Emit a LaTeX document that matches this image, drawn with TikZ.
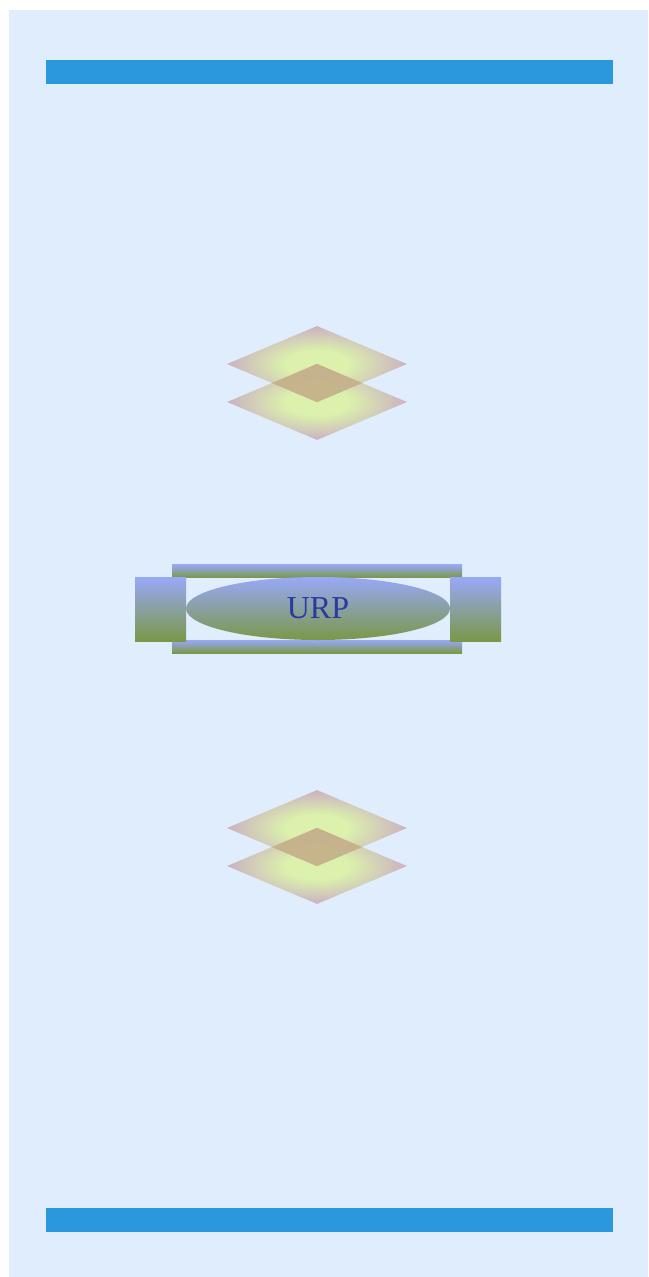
\documentclass[tikz,border=0pt]{standalone}
\usepackage{fontspec}
\setmainfont{Liberation Serif}
\usepackage{xcolor}
\usetikzlibrary{shapes,positioning,shapes.geometric,calc}

\definecolor{pagebg}{HTML}{DFEDFD}
\definecolor{barblue}{HTML}{2B98DE}
\definecolor{lilac}{HTML}{98A8F8}
\definecolor{olive}{HTML}{7A9848}
\definecolor{lime}{HTML}{DAF298}
\definecolor{mauve}{HTML}{C8A2B4}
\definecolor{tan}{HTML}{C6B28C}
\definecolor{urpblue}{HTML}{2A3AA0}

\pgfdeclareradialshading{layerglow}{\pgfpoint{0bp}{0bp}}{color(0bp)=(lime); color(9bp)=(lime); color(25bp)=(mauve); color(50bp)=(mauve)}

\tikzset{
    bar/.style={rectangle, fill=barblue, inner sep=0, minimum width=567pt, minimum height=24pt},
    layer/.style={diamond, inner sep=0, minimum width=180pt, minimum height=76pt, shading=layerglow, fill opacity=0.8},
    overlap/.style={fill=tan, fill opacity=0.95},
    rail/.style={rectangle, inner sep=0, minimum width=290pt, minimum height=13pt, top color=lilac, bottom color=olive},
    endblock/.style={rectangle, inner sep=0, minimum width=51pt, minimum height=64pt, top color=lilac, bottom color=olive},
    core/.style={ellipse, inner sep=0, minimum width=264pt, minimum height=63pt, top color=lilac, bottom color=olive, text=urpblue, font=\fontsize{32}{36}\selectfont}
}

\begin{document}
\begin{tikzpicture}[x=1pt, y=-1pt]
    \useasboundingbox (0,0) rectangle (648,1277);
    
    % Background
    \fill[pagebg] (9,10) rectangle (648,1277);
    
    % Bars
    \node[bar] (topbar) at (329.5,72) {};
    \node[bar] (botbar) at (329.5,1219.5) {};
    
    % Upper layers
    \node[layer] (up1) at (317,364) {};
    \node[layer] (up2) at (317,402) {};
    \fill[overlap] (up2.north) -- ($(up1.east)!0.5!(up1.south)$) -- (up1.south) -- ($(up1.west)!0.5!(up1.south)$) -- cycle;
    
    % URP
    \node[rail] (railtop) at (317,571) {};
    \node[rail] (railbot) at (317,646.5) {};
    \node[endblock] (blockl) at (160.5,609) {};
    \node[endblock] (blockr) at (475.5,609) {};
    \node[core] (urp) at (318,608.5) {URP};
    
    % Lower layers
    \node[layer] (low1) at (317,828) {};
    \node[layer] (low2) at (317,866) {};
    \fill[overlap] (low2.north) -- ($(low1.east)!0.5!(low1.south)$) -- (low1.south) -- ($(low1.west)!0.5!(low1.south)$) -- cycle;
    
\end{tikzpicture}
\end{document}
